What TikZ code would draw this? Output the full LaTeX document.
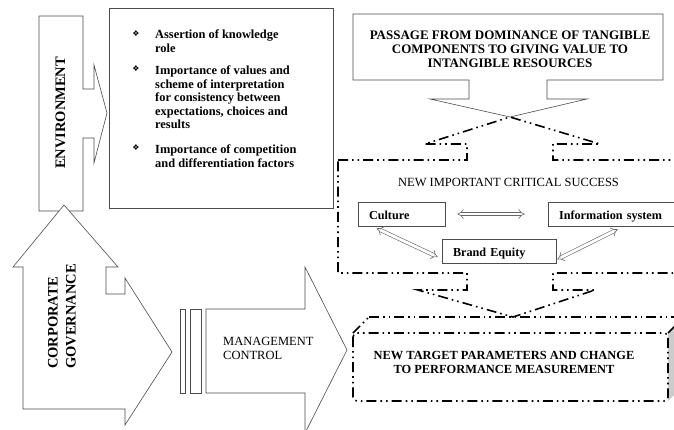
\documentclass[tikz,border=0pt]{standalone}
\usepackage{fontspec}
\setmainfont{Liberation Serif}
\newfontfamily\dingfont{DejaVu Sans}
\usepackage{xcolor}
\usetikzlibrary{arrows.meta, positioning, calc}

\begin{document}
\begin{tikzpicture}[
    x=1pt, y=-1pt,
    shapeline/.style={draw=black!70, line width=0.6pt, fill=white},
    dashdotdot/.style={draw=black, line width=1.6pt, line cap=butt,
      dash pattern=on 10pt off 4pt on 1.6pt off 4pt on 1.6pt off 4pt},
    txt/.style={inner sep=0pt, font=\fontsize{12.4}{13.6}\selectfont\bfseries},
    caps/.style={inner sep=0pt, align=center, font=\fontsize{12.5}{14}\selectfont},
    sidelabel/.style={inner sep=0pt, rotate=90, font=\fontsize{14.5}{18}\selectfont\bfseries},
    bullet/.style={inner sep=0pt, font=\dingfont\fontsize{8}{8}\selectfont},
    factor/.style={draw=black!70, line width=0.6pt, rectangle, inner xsep=11pt, inner ysep=0pt,
      text height=11pt, text depth=1pt, minimum height=24pt, align=left,
      font=\fontsize{12.2}{13}\selectfont\bfseries},
    hollow/.style={draw=black!60, line width=0.6pt, double=white, double distance=2.8pt,
      {Implies[length=6pt]}-{Implies[length=6pt]}}
  ]
  \useasboundingbox (0,0) rectangle (674,429);
  \clip (0,0) rectangle (674,429);

  % Shapes
  \draw[shapeline] (39,16) -- (83,16) -- (83,89) -- (94,89) -- (94,65) -- (107,113)
    -- (94,163) -- (94,138) -- (83,138) -- (83,211) -- (39,211) -- cycle;
  \draw[shapeline] (64,205) -- (118,267) -- (106,267) -- (106,294) -- (125,294) -- (125,278)
    -- (172,352) -- (125,425) -- (125,409) -- (23,409) -- (23,267) -- (13,267) -- cycle;
  \draw[shapeline] (109,8) rectangle (333,208);
  \draw[shapeline] (353,14) -- (663,14) -- (663,80) -- (547,80) -- (547,99) -- (587,99)
    -- (510,117) -- (430,99) -- (469,99) -- (469,80) -- (353,80) -- cycle;
  \draw[shapeline] (180,309) rectangle (185,393);
  \draw[shapeline] (190,309) rectangle (201,393);
  \draw[shapeline] (206,309) -- (305,309) -- (305,267) -- (347,350) -- (305,433)
    -- (305,393) -- (206,393) -- cycle;

  % critical success box
  \draw[dashdotdot] (338,160) -- (467,160) -- (467,144) -- (425,144) -- (510,117)
    -- (600,144) -- (553,144) -- (553,160) -- (690,160) -- (690,273) -- (553,273)
    -- (553,290) -- (595,290) -- (513,317) -- (418,290) -- (467,290) -- (467,273)
    -- (338,273) -- cycle;

  % target box
  \fill[black!20] (668,333) -- (684,317) -- (684,385) -- (668,401) -- cycle;
  \draw[dashdotdot] (369,317) -- (690,317);
  \draw[dashdotdot] (353,333) -- (369,317);
  \draw[dashdotdot] (668,333) -- (684,317);
  \draw[dashdotdot, rounded corners=4pt] (353,333) rectangle (668,401);

  % Nodes
  \node[sidelabel] (env) at (60.5,113) {ENVIRONMENT};
  \node[sidelabel, align=left] (gov) at (62,316.5) {CORPORATE\\GOVERNANCE};

  \node[bullet] (b1) at (136,33.3) {❖};
  \node[bullet] (b2) at (136,69) {❖};
  \node[bullet] (b3) at (136,148) {❖};
  \node[txt, anchor=north west, align=left] (role) at (155,30) {Assertion of knowledge\\role};
  \node[txt, anchor=north west, align=left] (values) at (155,65.5)
    {Importance of values and\\scheme of interpretation\\for consistency between\\expectations, choices and\\results};
  \node[txt, anchor=north west, align=left] (compet) at (155,144.5)
    {Importance of competition\\and differentiation factors};

  \node[caps, anchor=north, font=\fontsize{13}{14.2}\selectfont\bfseries] (passage) at (510,30.5)
    {PASSAGE FROM DOMINANCE OF TANGIBLE\\COMPONENTS TO GIVING VALUE TO\\INTANGIBLE RESOURCES};
  \node[caps, anchor=base] (critical) at (508.5,186.7) {NEW IMPORTANT CRITICAL SUCCESS};

  \node[factor, minimum width=87pt, text width=65pt] (culture) at (401.5,214) {Culture};
  \node[factor, minimum width=130pt, text width=108pt] (info) at (613,214) {Information system};
  \node[factor, minimum width=114pt, text width=92pt] (brand) at (499,251) {Brand Equity};

  \node[caps, anchor=north west, align=left, font=\fontsize{12.5}{13.6}\selectfont] (mgmt) at (223,337.4)
    {MANAGEMENT\\CONTROL};
  \node[caps, anchor=north, font=\fontsize{12.4}{14}\selectfont\bfseries] (target) at (504,350.8)
    {NEW TARGET PARAMETERS AND CHANGE\\TO PERFORMANCE MEASUREMENT};

  % Connections
  \draw[hollow, shorten <=12pt, shorten >=23pt] (culture.east) -- (info.west);
  \draw[hollow] ([shift={(19,2)}]culture.south west) -- ([shift={(-4,6)}]brand.west);
  \draw[hollow] ([shift={(70,3)}]info.south west) -- ([shift={(1,-4)}]brand.south east);
\end{tikzpicture}
\end{document}
